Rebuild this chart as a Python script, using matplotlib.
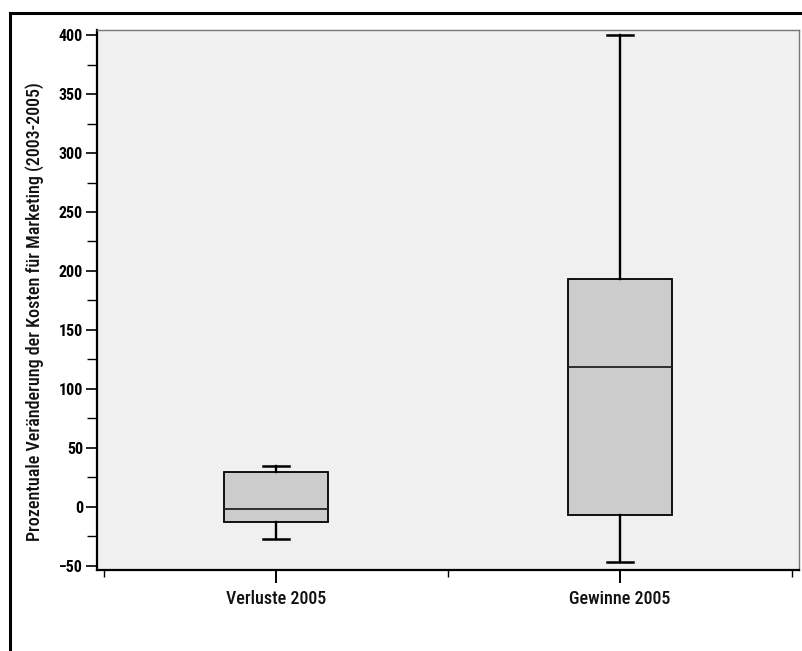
import matplotlib
matplotlib.use("Agg")
import matplotlib.pyplot as plt
from matplotlib.patches import Rectangle
from matplotlib.ticker import MultipleLocator, FixedLocator
from matplotlib import font_manager

categories = ["Verluste 2005", "Gewinne 2005"]
whislo = [-27, -47]
q1 = [-12.5, -6.5]
med = [-1.5, 118.5]
q3 = [30, 193.5]
whishi = [35, 400]

y_label = "Prozentuale Veränderung der Kosten für Marketing (2003-2005)"

names = {f.name for f in font_manager.fontManager.ttflist}
if "Liberation Sans Narrow" in names:
    fam = ["Liberation Sans Narrow"]
elif "Roboto Condensed" in names:
    fam = ["Roboto Condensed"]
else:
    fam = ["Liberation Sans"]
plt.rcParams["font.family"] = fam + ["DejaVu Sans"]

fig = plt.figure(figsize=(8.03, 6.51), dpi=100)
fig.patches.append(Rectangle((10 / 803, -0.1), 1.2, 1 - 13 / 651 + 0.1, transform=fig.transFigure,
                             fill=False, edgecolor="black", linewidth=2.2, zorder=0))

ax = fig.add_axes([97 / 803, 1 - 570 / 651, (799 - 97) / 803, (570 - 30) / 651])
ax.set_facecolor("#F0F0F0")

stats = []
for i, c in enumerate(categories):
    stats.append(dict(label=c, whislo=whislo[i], q1=q1[i], med=med[i], q3=q3[i], whishi=whishi[i], fliers=[]))

ax.bxp(stats, positions=[1, 2], widths=0.30, patch_artist=True, showfliers=False,
       boxprops=dict(facecolor="#CCCCCC", edgecolor="black", linewidth=1.3),
       medianprops=dict(color="#222222", linewidth=1.3),
       whiskerprops=dict(color="black", linewidth=1.7),
       capprops=dict(color="black", linewidth=1.8),
       capwidths=0.075)

ax.set_xlim(0.48, 2.52)
ax.set_ylim(-53.5, 404.3)

ax.yaxis.set_major_locator(MultipleLocator(50))
ax.yaxis.set_minor_locator(MultipleLocator(25))
ax.xaxis.set_major_locator(FixedLocator([1, 2]))
ax.xaxis.set_minor_locator(FixedLocator([0.5, 1.5, 2.5]))
ax.set_xticklabels(categories)

ax.tick_params(axis="y", which="major", length=8, width=1.2, labelsize=11.5, pad=2)
ax.tick_params(axis="y", which="minor", length=7, width=1.0)
ax.tick_params(axis="x", which="major", length=9.5, width=1.4, labelsize=13, pad=5)
ax.tick_params(axis="x", which="minor", length=5, width=1.0)
for lab in ax.get_yticklabels():
    lab.set_fontweight("bold")
for lab in ax.get_xticklabels():
    lab.set_fontweight("medium")
    lab.set_color("#111111")

ax.set_ylabel(y_label, fontsize=13, fontweight="medium", color="#111111")
ax.yaxis.set_label_coords(-0.076, 0.478)

for s in ["left", "bottom"]:
    ax.spines[s].set_color("black")
    ax.spines[s].set_linewidth(1.6)
for s in ["top", "right"]:
    ax.spines[s].set_color("#777777")
    ax.spines[s].set_linewidth(1.0)

fig.savefig("out.png", dpi=100)
